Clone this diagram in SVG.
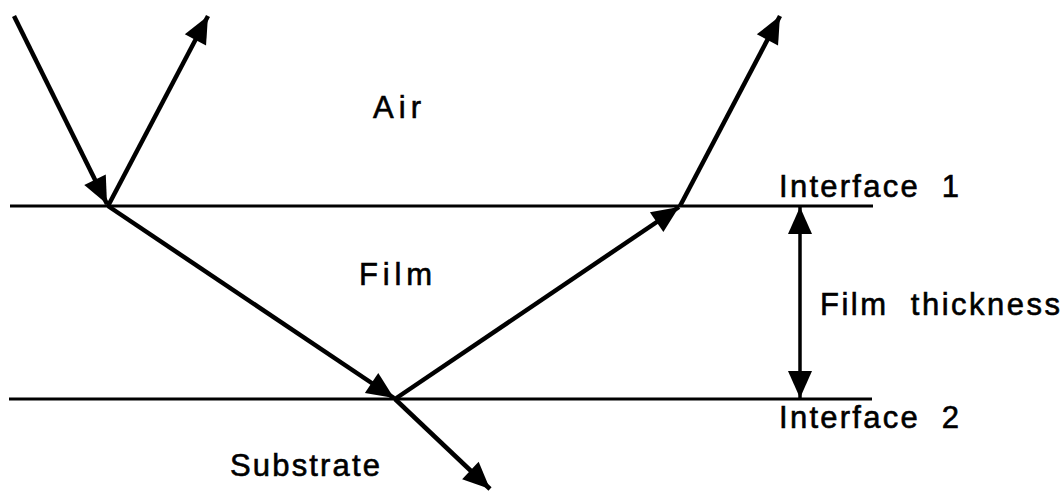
<svg xmlns="http://www.w3.org/2000/svg" width="1064" height="491" viewBox="0 0 1064 491">
<style>
  .iface { stroke: #000; stroke-width: 3; fill: none; }
  .ray { stroke: #000; stroke-width: 4.5; fill: none; }
  .lbl { font-family: "Liberation Sans", Arial, sans-serif; font-size: 31px; fill: #000; stroke: #000; stroke-width: 0.6; white-space: pre; }
</style>
<defs>
  <marker id="ah" markerUnits="userSpaceOnUse" viewBox="-28 -13 29 26" refX="0" refY="0" markerWidth="29" markerHeight="26" orient="auto" overflow="visible">
    <path d="M0,0 L-27,-12 L-27,12 Z" fill="#000"/>
  </marker>
  <marker id="ahs" markerUnits="userSpaceOnUse" viewBox="-28 -13 29 26" refX="0" refY="0" markerWidth="29" markerHeight="26" orient="auto-start-reverse" overflow="visible">
    <path d="M0,0 L-27,-12 L-27,12 Z" fill="#000"/>
  </marker>
</defs>
<rect width="1064" height="491" fill="#fff"/>
<g id="interfaces">
  <line id="interface1-line" class="iface" x1="10" y1="206" x2="873" y2="206"/>
  <line id="interface2-line" class="iface" x1="9" y1="399" x2="872" y2="399"/>
</g>
<g id="connectors">
  <line class="ray" x1="14" y1="16" x2="107" y2="204" marker-end="url(#ah)"/>
  <line class="ray" x1="108" y1="206" x2="208" y2="16" marker-end="url(#ah)"/>
  <line class="ray" x1="108" y1="206" x2="394" y2="398" marker-end="url(#ah)"/>
  <line class="ray" x1="395" y1="399" x2="679" y2="207" marker-end="url(#ah)"/>
  <line class="ray" x1="680" y1="206" x2="780" y2="16" marker-end="url(#ah)"/>
  <line class="ray" x1="395" y1="399" x2="490" y2="489" marker-end="url(#ah)"/>
  <line class="ray" x1="800" y1="207" x2="800" y2="398" marker-start="url(#ahs)" marker-end="url(#ah)" style="stroke-width:3.5"/>
</g>
<g id="air"><text class="lbl" x="373" y="118" textLength="48" lengthAdjust="spacing">Air</text></g>
<g id="interface1"><text class="lbl" x="779" y="197" textLength="180" lengthAdjust="spacing">Interface  1</text></g>
<g id="film"><text class="lbl" x="359" y="285" textLength="73" lengthAdjust="spacing">Film</text></g>
<g id="film-thickness"><text class="lbl" x="820" y="315" textLength="240" lengthAdjust="spacing">Film  thickness</text></g>
<g id="interface2"><text class="lbl" x="779" y="428" textLength="180" lengthAdjust="spacing">Interface  2</text></g>
<g id="substrate"><text class="lbl" x="230" y="476" textLength="150" lengthAdjust="spacing">Substrate</text></g>
</svg>
